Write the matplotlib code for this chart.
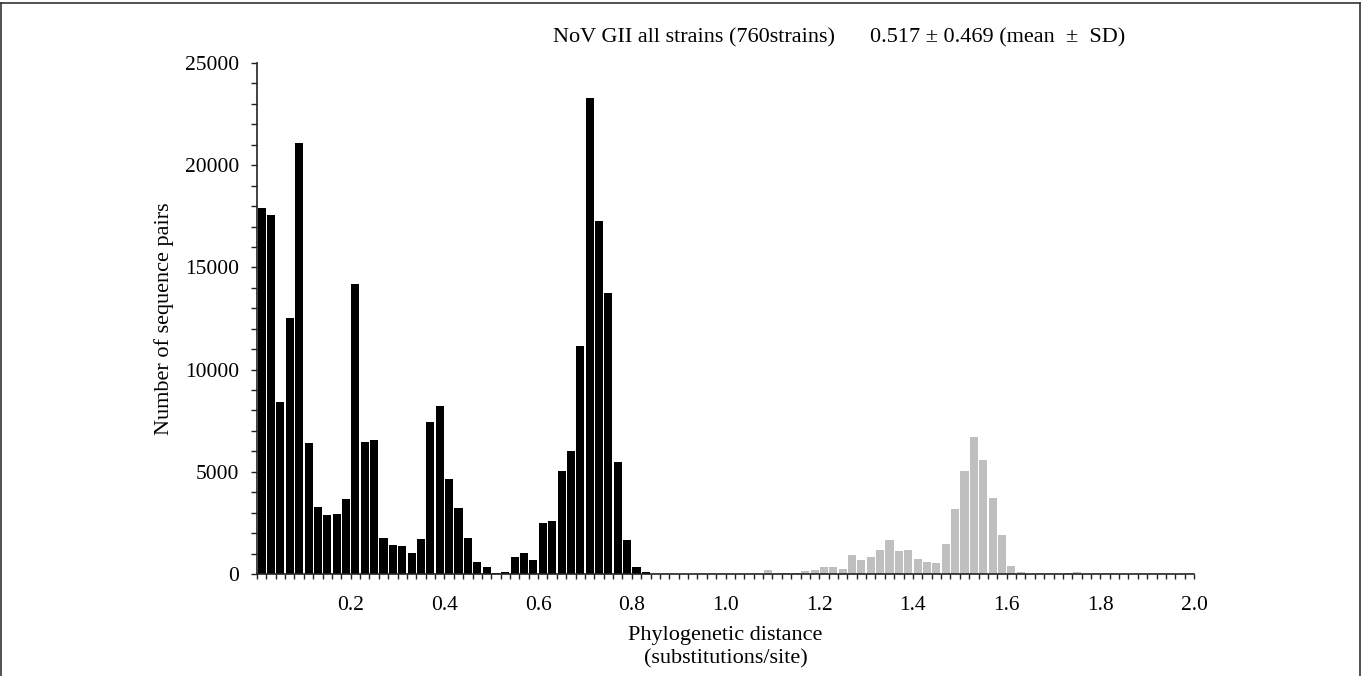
import matplotlib
matplotlib.use("Agg")
import matplotlib.pyplot as plt
from matplotlib.ticker import MultipleLocator, FixedLocator
from matplotlib.lines import Line2D

plt.rcParams['font.family'] = ['Liberation Serif', 'DejaVu Serif']

# Histogram of pairwise phylogenetic distances, bin width 0.02 (0.00-2.00)
bin_width = 0.02
n_bins = 100
# counts for bins 0..41 (0.00-0.84) -- black (within-genotype)
black_counts = [17900, 17550, 8400, 12500, 21100, 6400, 3280, 2910, 2940, 3680,
                14200, 6480, 6560, 1770, 1400, 1350, 1030, 1730, 7420, 8210,
                4640, 3230, 1770, 610, 320, 50, 120, 840, 1040, 670,
                2510, 2570, 5030, 6040, 11150, 23300, 17260, 13730, 5500, 1650,
                340, 100]
# counts for bins 42..99 (0.84-2.00) -- gray (between-genotype)
gray_counts = [0, 0, 0, 0, 0, 0, 0, 0, 0, 0, 0, 0,
               200, 0, 50, 50, 150, 210, 340, 340, 260, 930,
               680, 820, 1160, 1660, 1110, 1160, 720, 600, 550, 1450,
               3180, 5030, 6690, 5570, 3730, 1920, 400, 120, 0, 0,
               0, 0, 50, 100, 0, 0, 0, 0, 0, 0,
               0, 0, 0, 0, 0, 0]

x_major = [0.2, 0.4, 0.6, 0.8, 1.0, 1.2, 1.4, 1.6, 1.8, 2.0]
x_labels = ["0.2", "0.4", "0.6", "0.8", "1.0", "1.2", "1.4", "1.6", "1.8", "2.0"]
y_major = [0, 5000, 10000, 15000, 20000, 25000]

title_left = "NoV GII all strains (760strains)"
title_right = "0.517 ± 0.469 (mean  ±  SD)"

fig = plt.figure(figsize=(13.62, 6.76), dpi=100)
ax = fig.add_axes([0.1887, 0.1509, 0.688, 0.7559])

nb = len(black_counts)
bx = [(i + 0.5) * bin_width for i in range(nb)]
gx = [(nb + i + 0.5) * bin_width for i in range(len(gray_counts))]
ax.bar(bx, black_counts, width=bin_width * 0.86, color='black', linewidth=0)
ax.bar(gx, gray_counts, width=bin_width * 0.86, color='#bfbfbf', linewidth=0)

ax.set_xlim(0, 2.0)
ax.set_ylim(0, 25000)

ax.xaxis.set_major_locator(FixedLocator(x_major))
ax.set_xticklabels(x_labels)
ax.xaxis.set_minor_locator(MultipleLocator(bin_width))
ax.yaxis.set_major_locator(FixedLocator(y_major))
ax.yaxis.set_minor_locator(MultipleLocator(1000))

ax.tick_params(axis='x', which='both', direction='out', length=3.5, width=1,
               color='#222222', labelsize=15.5, pad=12)
ax.tick_params(axis='y', which='both', direction='out', length=4, width=1,
               color='#222222', labelsize=15.5, pad=9)

for s in ['top', 'right']:
    ax.spines[s].set_visible(False)
for s in ['left', 'bottom']:
    ax.spines[s].set_color('#222222')
    ax.spines[s].set_linewidth(1.2)

ax.set_ylabel("Number of sequence pairs", fontsize=16, labelpad=8)
ax.set_xlabel("Phylogenetic distance\n(substitutions/site)", fontsize=16,
              labelpad=8, linespacing=1.3)

fig.text(553 / 1362, 1 - 38 / 676, title_left, fontsize=16, ha='left', va='center')
fig.text(870 / 1362, 1 - 38 / 676, title_right, fontsize=16, ha='left', va='center')

# thin frame around figure
for xs, ys in [([0.001, 0.001], [0, 0.995]), ([0.001, 0.9985], [0.995, 0.995]),
               ([0.9985, 0.9985], [0, 0.995])]:
    fig.add_artist(Line2D(xs, ys, transform=fig.transFigure, color='#333333', lw=1.2))

fig.savefig("out.png", dpi=100)
